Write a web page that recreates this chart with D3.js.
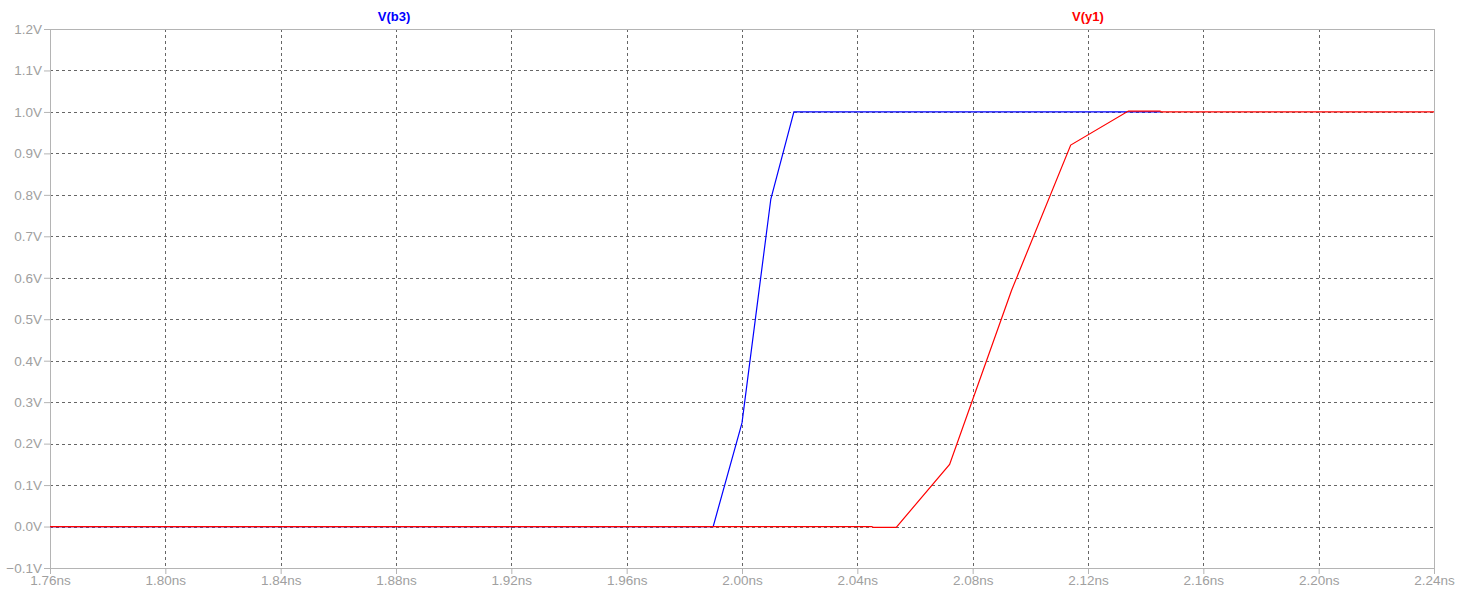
<!DOCTYPE html>
<html>
<head>
<meta charset="utf-8">
<script src="https://cdn.jsdelivr.net/npm/d3@7"></script>
<style>
  body { margin: 0; background: #fff; }
  text { font-family: Arial, "Liberation Sans", sans-serif; }
</style>
</head>
<body>
<script>
var margin = {left: 50, right: 27, top: 29, bottom: 25},
    width = 1461 - margin.left - margin.right,
    height = 593 - margin.top - margin.bottom;

// time in ns, voltage in V
var b3Time  = [1.76, 1.990, 2.000, 2.010, 2.018, 2.145];
var b3Volt  = [0.0,  0.0,   0.25,  0.79,  1.0,   1.0];
var y1Time  = [1.76, 2.045, 2.0455, 2.0535, 2.072, 2.0935, 2.114, 2.134, 2.145, 2.1455, 2.24];
var y1Volt  = [0.0,  0.0,  -0.002, -0.002,  0.15,  0.57,   0.92,  1.002, 1.002, 1.0,    1.0];

var xTicks = [1.76, 1.80, 1.84, 1.88, 1.92, 1.96, 2.00, 2.04, 2.08, 2.12, 2.16, 2.20, 2.24];
var yTicks = [-0.1, 0.0, 0.1, 0.2, 0.3, 0.4, 0.5, 0.6, 0.7, 0.8, 0.9, 1.0, 1.1, 1.2];

var svg = d3.select("body")
    .append("svg")
    .attr("width", width + margin.left + margin.right)
    .attr("height", height + margin.top + margin.bottom)
    .append("g")
    .attr("transform", "translate(" + margin.left + "," + margin.top + ")");

var x = d3.scaleLinear().domain([1.76, 2.24]).range([0, width]);
var y = d3.scaleLinear().domain([-0.1, 1.2]).range([height, 0]);

// Grid
svg.append("g")
    .selectAll("line")
    .data(xTicks.slice(1, -1))
    .enter().append("line")
    .attr("x1", d => Math.round(x(d)) + 0.5)
    .attr("x2", d => Math.round(x(d)) + 0.5)
    .attr("y1", 0).attr("y2", height)
    .attr("stroke", "#666")
    .attr("stroke-dasharray", "3,3");

svg.append("g")
    .selectAll("line")
    .data(yTicks.slice(1, -1))
    .enter().append("line")
    .attr("y1", d => Math.round(y(d)) + 0.5)
    .attr("y2", d => Math.round(y(d)) + 0.5)
    .attr("x1", 0).attr("x2", width)
    .attr("stroke", "#666")
    .attr("stroke-dasharray", "3,3");

// Frame
svg.append("rect")
    .attr("x", 0.5).attr("y", 0.5)
    .attr("width", width).attr("height", height)
    .attr("fill", "none")
    .attr("stroke", "#b4b4b4");

// Axes
var yAxis = svg.append("g")
    .call(d3.axisLeft(y).tickValues(yTicks).tickSize(6).tickPadding(2)
        .tickFormat(d => d3.format(".1f")(d) + "V"));
yAxis.select(".domain").remove();
yAxis.selectAll("line").attr("stroke", "#b4b4b4");
yAxis.selectAll("text").attr("fill", "#a0a0a0").attr("font-size", 13.5);

var xAxis = svg.append("g")
    .attr("transform", "translate(0," + height + ")")
    .call(d3.axisBottom(x).tickValues(xTicks).tickSize(6).tickPadding(1)
        .tickFormat(d => d3.format(".2f")(d) + "ns"));
xAxis.select(".domain").remove();
xAxis.selectAll("line").attr("stroke", "#b4b4b4");
xAxis.selectAll("text").attr("fill", "#a0a0a0").attr("font-size", 13.5);

// Traces
var line = d3.line()
    .x(d => x(d[0]))
    .y(d => y(d[1]));

svg.append("path")
    .datum(d3.zip(b3Time, b3Volt))
    .attr("fill", "none")
    .attr("stroke", "#0000ff")
    .attr("stroke-width", 1.2)
    .attr("d", line);

svg.append("path")
    .datum(d3.zip(y1Time, y1Volt))
    .attr("fill", "none")
    .attr("stroke", "#ff0000")
    .attr("stroke-width", 1.2)
    .attr("d", line);

// Trace names
svg.append("text")
    .attr("x", 394 - margin.left).attr("y", -8)
    .attr("text-anchor", "middle")
    .attr("fill", "#0000ff")
    .attr("font-size", 13)
    .attr("font-weight", "bold")
    .text("V(b3)");

svg.append("text")
    .attr("x", 1088 - margin.left).attr("y", -8)
    .attr("text-anchor", "middle")
    .attr("fill", "#ff0000")
    .attr("font-size", 13)
    .attr("font-weight", "bold")
    .text("V(y1)");
</script>
</body>
</html>
